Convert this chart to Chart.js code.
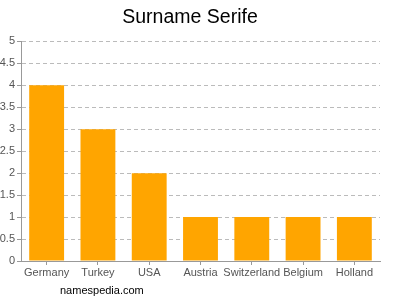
<!DOCTYPE html>
<html>
<head>
<meta charset="utf-8">
<script src="https://cdn.jsdelivr.net/npm/chart.js@4/dist/chart.umd.min.js"></script>
<style>
  html, body { margin: 0; padding: 0; background: #fff; }
  #wrap { position: relative; width: 400px; height: 300px; }
  #footer {
    position: absolute; left: 60px; top: 284px;
    font: 11px "Liberation Sans", Arial, sans-serif; color: #000;
  }
</style>
</head>
<body>
<div id="wrap">
  <canvas id="chart" width="400" height="300"></canvas>
  <div id="footer">namespedia.com</div>
</div>
<script>
// chart data
const countries = ['Germany', 'Turkey', 'USA', 'Austria', 'Switzerland', 'Belgium', 'Holland'];
const counts = [4, 3, 2, 1, 1, 1, 1];
const chartTitle = 'Surname Serife';

const ctx = document.getElementById('chart').getContext('2d');
new Chart(ctx, {
    type: 'bar',
    data: {
        labels: countries,
        datasets: [{
            data: counts,
            backgroundColor: '#FFA500',
            borderWidth: 0,
            barPercentage: 0.68,
            categoryPercentage: 1
        }]
    },
    options: {
        responsive: false,
        animation: false,
        layout: { padding: { left: 0, right: 20, top: 0, bottom: 0 } },
        plugins: {
            legend: { display: false },
            tooltip: { enabled: false },
            title: {
                display: true,
                text: chartTitle,
                color: '#000',
                font: { family: 'Liberation Sans', size: 19.5, weight: 'normal' },
                padding: { top: 6, bottom: 12 }
            }
        },
        scales: {
            x: {
                grid: { drawOnChartArea: false, offset: false, color: '#999', tickLength: 4 },
                border: { color: '#999' },
                ticks: { color: '#555', font: { family: 'Liberation Sans', size: 11 }, padding: 1, maxRotation: 0, autoSkip: false },
                afterFit: function(scale) { scale.height = 39; }
            },
            y: {
                min: 0,
                max: 5,
                ticks: {
                    stepSize: 0.5,
                    color: '#555',
                    font: { family: 'Liberation Sans', size: 11 },
                    padding: 2,
                    callback: function(value) { return String(value); }
                },
                grid: { color: '#bbb', tickLength: 4, tickColor: '#999' },
                border: { color: '#999', dash: [4, 3] },
                afterFit: function(scale) { scale.width = 21; }
            }
        }
    }
});
</script>
</body>
</html>
